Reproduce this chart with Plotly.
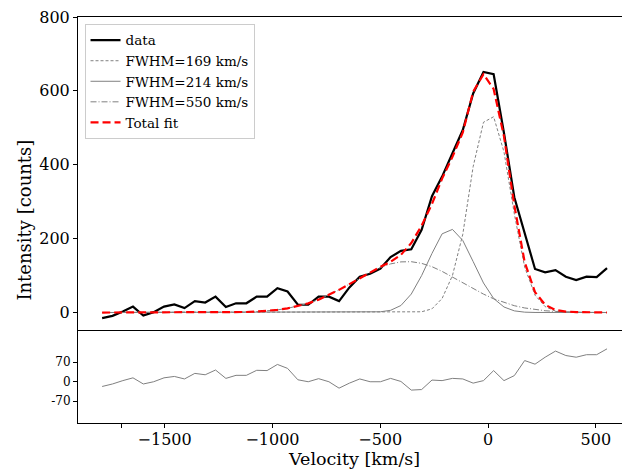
import plotly.graph_objects as go
from plotly.subplots import make_subplots

velocity = [-1790, -1742, -1694, -1647, -1599, -1551, -1503, -1455, -1408, -1360,
            -1312, -1264, -1216, -1169, -1121, -1073, -1025, -977, -930, -882,
            -834, -786, -738, -691, -643, -595, -547, -499, -452, -404,
            -356, -308, -260, -213, -165, -117, -69, -21, 26, 74,
            122, 170, 218, 265, 313, 361, 409, 457, 504, 552]

data = [-15, -9, 3, 16, -8, 1, 16, 22, 12, 31,
        27, 43, 15, 25, 25, 43, 43, 66, 57, 21,
        21, 43, 43, 31, 68, 97, 105, 119, 150, 167,
        171, 224, 315, 368, 431, 494, 593, 651, 645, 486,
        312, 212, 118, 109, 115, 97, 88, 97, 96, 120]

comp_169 = [0, 0, 0, 0, 0, 0, 0, 0, 0, 0,
            0, 0, 0, 0, 0, 0, 0, 0, 0, 0,
            0, 0, 0, 0, 0, 0, 0, 0, 0, 0,
            0.5, 2, 10, 38, 100, 212, 395, 515, 530, 435,
            267, 123, 47, 16, 4, 1, 0.3, 0, 0, 0]

comp_214 = [0, 0, 0, 0, 0, 0, 0, 0, 0, 0,
            0, 0, 0, 0, 0, 0, 0, 0, 0, 0,
            0, 0, 0, 0, 0, 0.1, 0.5, 2, 6, 19,
            50, 100, 160, 213, 225, 195, 138, 80, 38, 15,
            4.5, 1, 0.2, 0, 0, 0, 0, 0, 0, 0]

comp_550 = [0, 0, 0, 0, 0, 0, 0, 0.01, 0.02, 0.05,
            0.1, 0.2, 0.4, 0.8, 1.5, 2.6, 4.4, 7.2, 11.3, 17.1,
            24.9, 34.9, 47.2, 61.4, 77.0, 93.1, 108.5, 121.7, 131.6, 137.1,
            137.6, 133.1, 124.1, 111.4, 96.4, 80.3, 64.5, 49.9, 37.2, 26.8,
            18.5, 12.4, 7.9, 4.9, 2.9, 1.7, 0.9, 0.5, 0.3, 0.1]

total_fit = [0, 0, 0, 0, 0, 0, 0, 0.01, 0.02, 0.05,
             0.1, 0.2, 0.4, 0.8, 1.5, 2.6, 4.4, 7.2, 11.3, 17.1,
             24.9, 34.9, 47.2, 61.4, 77.0, 93.2, 109.0, 123.7, 137.6, 156.1,
             188.1, 235.1, 294.1, 362.4, 421.4, 487.3, 597.5, 644.9, 605.2, 476.8,
             290.0, 136.4, 55.1, 20.9, 6.9, 2.7, 1.2, 0.5, 0.3, 0.1]

residual = [-17, -8, 4, 14, -8, 0, 14, 19, 10, 30,
            25, 42, 12, 23, 23, 41, 40, 62, 48, 7,
            0, 11, 0, -23, -5, 10, 0, 0, 12, 1,
            -30, -28, 6, 4, 12, 10, -5, 4, 40, 4,
            22, 76, 63, 88, 110, 94, 88, 97, 97, 118]

x_tickvals = [-1700, -1500, -1000, -500, 0, 500]
x_ticktext = ["", "\u22121500", "\u22121000", "\u2212500", "0", "500"]
y_tickvals = [0, 200, 400, 600, 800]
res_tickvals = [70, 0, -70]
res_ticktext = ["70", "0", "-70"]

FONT = "DejaVu Serif"
GRAY = "#808080"

fig = make_subplots(rows=2, cols=1, shared_xaxes=False, vertical_spacing=0,
                    row_heights=[0.7734, 0.2266])

fig.add_trace(go.Scatter(x=velocity, y=data, mode="lines", name="data",
                         line=dict(color="black", width=2.2)), row=1, col=1)
fig.add_trace(go.Scatter(x=velocity, y=comp_169, mode="lines", name="FWHM=169 km/s",
                         line=dict(color=GRAY, width=1, dash="3px,2px")), row=1, col=1)
fig.add_trace(go.Scatter(x=velocity, y=comp_214, mode="lines", name="FWHM=214 km/s",
                         line=dict(color=GRAY, width=1)), row=1, col=1)
fig.add_trace(go.Scatter(x=velocity, y=comp_550, mode="lines", name="FWHM=550 km/s",
                         line=dict(color=GRAY, width=1, dash="6px,2px,1px,2px")), row=1, col=1)
fig.add_trace(go.Scatter(x=velocity, y=total_fit, mode="lines", name="Total fit",
                         line=dict(color="red", width=2.2, dash="8px,4px")), row=1, col=1)
fig.add_trace(go.Scatter(x=velocity, y=residual, mode="lines", showlegend=False,
                         line=dict(color=GRAY, width=1)), row=2, col=1)

xr = [-1902, 621.5]
axis_common = dict(showline=True, linecolor="black", linewidth=1, showgrid=False,
                   zeroline=False, ticks="outside", ticklen=4, tickcolor="black",
                   tickfont=dict(family=FONT, size=16, color="black"))

fig.update_xaxes(range=xr, side="top", showticklabels=False, ticks="",
                 showline=True, linecolor="black", linewidth=1, showgrid=False,
                 zeroline=False, row=1, col=1)
fig.update_xaxes(range=xr, mirror=True, tickvals=x_tickvals, ticktext=x_ticktext,
                 ticklabelstandoff=-2, **axis_common, row=2, col=1)
fig.update_yaxes(range=[-50, 800], tickvals=y_tickvals, **axis_common, row=1, col=1)
ac2 = dict(axis_common)
ac2["tickfont"] = dict(family=FONT, size=12, color="black")
fig.update_yaxes(range=[-148, 182], tickvals=res_tickvals, ticktext=res_ticktext,
                 **ac2, row=2, col=1)

fig.update_layout(
    width=622, height=470,
    margin=dict(l=78, r=0, t=17, b=47),
    paper_bgcolor="white", plot_bgcolor="white",
    font=dict(family=FONT, color="black"),
    legend=dict(x=0.012, y=0.983, xanchor="left", yanchor="top",
                bgcolor="rgba(255,255,255,0.8)", bordercolor="#cccccc", borderwidth=1,
                font=dict(family=FONT, size=13.5, color="black"),
                traceorder="normal"),
    annotations=[
        dict(text="Intensity [counts]", xref="paper", yref="paper", x=-0.100, y=0.5,
             xanchor="center", yanchor="middle", textangle=-90, showarrow=False,
             font=dict(family=FONT, size=18, color="black")),
        dict(text="Velocity [km/s]", xref="paper", yref="paper", x=0.507, y=-0.1158,
             xanchor="center", yanchor="bottom", showarrow=False, borderpad=0,
             font=dict(family=FONT, size=17.5, color="black")),
    ],
)

fig.write_html("out.html")
